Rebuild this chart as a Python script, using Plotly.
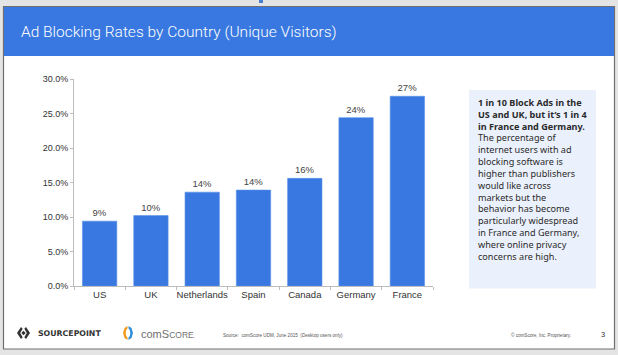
import plotly.graph_objects as go

countries = ["US", "UK", "Netherlands", "Spain", "Canada", "Germany", "France"]
rates = [9.4, 10.2, 13.6, 13.9, 15.6, 24.4, 27.5]
labels = ["9%", "10%", "14%", "14%", "16%", "24%", "27%"]
y_ticks = [0, 5, 10, 15, 20, 25, 30]
y_tick_text = ["0.0%", "5.0%", "10.0%", "15.0%", "20.0%", "25.0%", "30.0%"]

title_text = "Ad Blocking Rates by Country (Unique Visitors)"
box_bold = ["1 in 10 Block Ads in the", "US and UK, but it\u2019s 1 in 4", "in France and Germany."]
box_body = ["The percentage of", "internet users with ad", "blocking software is",
            "higher than publishers", "would like across", "markets but the",
            "behavior has become", "particularly widespread", "in France and Germany,",
            "where online privacy", "concerns are high."]
source_text = "Source:  comScore UDM, June 2015  (Desktop users only)"
copyright_text = "\u00a9 comScore, Inc. Proprietary."

W, H = 618, 355
L, R, T, B = 74, 433, 79, 286
BLUE = "#3878e0"


def X(px):
    return (px - L) / (R - L)


def Y(py):
    return (B - py) / (B - T)


fig = go.Figure()
fig.add_trace(go.Bar(
    x=countries, y=rates, text=labels, textposition="outside",
    textfont=dict(family="Liberation Sans, Arial", size=9.5, color="#444"),
    marker=dict(color=BLUE, line=dict(color="#5a90e8", width=0.6)),
    width=0.67, cliponaxis=False, hoverinfo="skip",
))

shapes = []
shapes.append(dict(type="rect", xref="paper", yref="paper", layer="below",
                   x0=X(3.5), x1=X(614.5), y0=Y(349), y1=Y(6.5),
                   fillcolor="white", line=dict(color="#6f6f6f", width=1.2)))
shapes.append(dict(type="rect", xref="paper", yref="paper", layer="below",
                   x0=X(4), x1=X(614), y0=Y(56), y1=Y(7),
                   fillcolor=BLUE, line=dict(width=0)))
shapes.append(dict(type="rect", xref="paper", yref="paper", layer="below",
                   x0=X(259), x1=X(263), y0=Y(3), y1=Y(0),
                   fillcolor="#4a7fd0", line=dict(width=0)))
shapes.append(dict(type="rect", xref="paper", yref="paper", layer="below",
                   x0=X(469), x1=X(596), y0=Y(288.5), y1=Y(90),
                   fillcolor="#eaf1fc", line=dict(width=0)))


def P(points):
    return "M " + " L ".join(f"{X(a)},{Y(b)}" for a, b in points) + " Z"


cx, cy = 23.5, 333
shapes.append(dict(type="path", xref="paper", yref="paper",
                   path=P([(cx - 2.5, cy - 6), (cx - 6.5, cy), (cx - 2.5, cy + 6),
                           (cx - 0.8, cy + 4.3), (cx - 3.3, cy), (cx - 0.8, cy - 4.3)]),
                   fillcolor="#333", line=dict(width=0)))
shapes.append(dict(type="path", xref="paper", yref="paper",
                   path=P([(cx + 2.5, cy - 6), (cx + 6.5, cy), (cx + 2.5, cy + 6),
                           (cx + 0.8, cy + 4.3), (cx + 3.3, cy), (cx + 0.8, cy - 4.3)]),
                   fillcolor="#333", line=dict(width=0)))
shapes.append(dict(type="path", xref="paper", yref="paper",
                   path=P([(cx, cy - 2.2), (cx + 2.2, cy), (cx, cy + 2.2), (cx - 2.2, cy)]),
                   fillcolor="#333", line=dict(width=0)))
shapes.append(dict(type="path", xref="paper", yref="paper",
                   path=P([(127.5, 326), (124.5, 328), (123, 333), (124.5, 338), (127.5, 340),
                           (127.5, 337.5), (126.2, 336), (125.7, 333), (126.2, 330), (127.5, 328.5)]),
                   fillcolor="#f39a1f", line=dict(width=0)))
shapes.append(dict(type="path", xref="paper", yref="paper",
                   path=P([(128.5, 326), (131.5, 328), (133, 333), (131.5, 338), (128.5, 340),
                           (128.5, 337.5), (129.8, 336), (130.3, 333), (129.8, 330), (128.5, 328.5)]),
                   fillcolor="#2f8fd8", line=dict(width=0)))

ann = []
ann.append(dict(xref="paper", yref="paper", x=X(19), y=Y(31.5), xanchor="left", yanchor="middle",
                text=title_text, showarrow=False,
                font=dict(family="Roboto", size=15.5, color="white", weight=300)))
box_text = "<b>" + "<br>".join(box_bold) + "</b><br>" + "<br>".join(box_body)
ann.append(dict(xref="paper", yref="paper", x=X(476), y=Y(94), xanchor="left", yanchor="top",
                text=box_text, showarrow=False, align="left",
                font=dict(family="Noto Sans", size=9.1, color="#2a2a2a")))
ann.append(dict(xref="paper", yref="paper", x=X(36), y=Y(333), xanchor="left", yanchor="middle",
                text="<b>SOURCEPOINT</b>", showarrow=False,
                font=dict(family="DejaVu Sans", size=7.8, color="#333")))
ann.append(dict(xref="paper", yref="paper", x=X(139), y=Y(333.5), xanchor="left", yanchor="middle",
                text="comS<span style='font-size:8.5px'>CORE</span><span style='font-size:5px'>.</span>",
                showarrow=False,
                font=dict(family="Liberation Sans", size=11, color="#707070")))
ann.append(dict(xref="paper", yref="paper", x=X(221), y=Y(335), xanchor="left", yanchor="middle",
                text=source_text, showarrow=False,
                font=dict(family="Liberation Sans", size=4.6, color="#555")))
ann.append(dict(xref="paper", yref="paper", x=X(509), y=Y(335), xanchor="left", yanchor="middle",
                text=copyright_text, showarrow=False,
                font=dict(family="Liberation Sans", size=4.6, color="#555")))
ann.append(dict(xref="paper", yref="paper", x=X(603), y=Y(334.5), xanchor="center", yanchor="middle",
                text="3", showarrow=False,
                font=dict(family="Liberation Sans", size=7.5, color="#333")))

fig.update_layout(
    width=W, height=H,
    margin=dict(l=L, r=W - R, t=T, b=H - B, pad=0),
    paper_bgcolor="#e4e4e4", plot_bgcolor="rgba(0,0,0,0)",
    showlegend=False, bargap=0.33,
    shapes=shapes, annotations=ann,
    xaxis=dict(type="category", showgrid=False, showline=True, linecolor="#bdbdbd", linewidth=1,
               ticks="outside", tickson="boundaries", ticklen=3, tickcolor="#bdbdbd",
               tickangle=0,
               tickfont=dict(family="Liberation Sans, Arial", size=9.5, color="#333"),
               fixedrange=True),
    yaxis=dict(range=[0, 30], tickvals=y_ticks, ticktext=y_tick_text, showgrid=False,
               showline=True, linecolor="#bdbdbd", linewidth=1, ticks="outside", ticklen=3,
               tickcolor="#bdbdbd", zeroline=False,
               tickfont=dict(family="Liberation Sans, Arial", size=9, color="#333"),
               fixedrange=True),
)

fig.write_html("out.html", config={"displayModeBar": False})
